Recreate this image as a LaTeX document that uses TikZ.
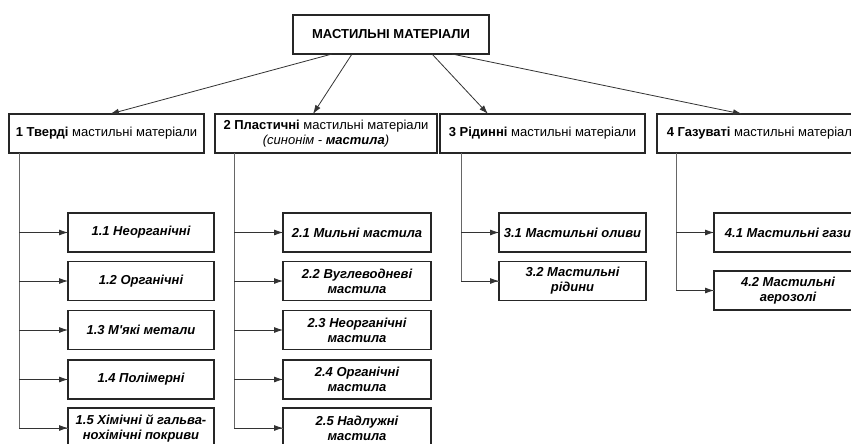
\documentclass[tikz,border=0pt]{standalone}
\usepackage{fontspec}
\setmainfont{Liberation Sans}[Ligatures=TeXOff]
\usetikzlibrary{arrows.meta}
\begin{document}
\begin{tikzpicture}[x=1pt,y=-1pt,
  box/.style={draw=black!85, line width=1.3pt, inner sep=0pt, outer sep=0pt, align=center,
    font=\fontsize{13}{15}\selectfont, minimum height=39pt},
  sub/.style={box, font=\fontsize{13}{15}\selectfont\bfseries\itshape},
  arr/.style={draw=black!80, line width=0.8pt, -{Latex[length=9pt,width=6pt]}},
  conn/.style={draw=black!60, line width=0.9pt}]
\useasboundingbox (0,0) rectangle (851,444);
\clip (0,0) rectangle (851,444);
\fill[white] (0,0) rectangle (851,444);
% top
\node[box, minimum width=196pt] (top) at (391,34.5) {\bfseries МАСТИЛЬНІ МАТЕРІАЛИ};
% level 1
\node[box, minimum width=195pt] (b1) at (106.5,133.5) {\textbf{1 Тверді} мастильні матеріали};
\node[box, minimum width=222pt] (b2) at (326,133.5) {\textbf{2 Пластичні} мастильні матеріали\\\textit{(синонім - \textbf{мастила})}};
\node[box, minimum width=205pt] (b3) at (542.5,133.5) {\textbf{3 Рідинні} мастильні матеріали};
\node[box, minimum width=212pt, anchor=west] (b4) at (657,133.5) {\hspace{5pt}\textbf{4 Газуваті} мастильні матеріали\hspace{5pt}};
% arrows from top
\draw[arr] ([xshift=39pt]top.south west) -- ([xshift=101pt]b1.north west);
\draw[arr] ([xshift=59pt]top.south west) -- ([xshift=98pt]b2.north west);
\draw[arr] ([xshift=139pt]top.south west) -- ([xshift=48pt]b3.north west);
\draw[arr] ([xshift=159pt]top.south west) -- ([xshift=85pt]b4.north west);
% column 1
\node[sub, minimum width=146pt] (s11) at (141,232.5) {1.1 Неорганічні};
\node[sub, minimum width=146pt] (s12) at (141,281) {1.2 Органічні};
\node[sub, minimum width=146pt] (s13) at (141,330) {1.3 М'які метали};
\node[sub, minimum width=146pt] (s14) at (141,379.5) {1.4 Полімерні};
\node[sub, minimum width=146pt, minimum height=40pt] (s15) at (141,428) {1.5 Хімічні й гальва-\\нохімічні покриви};
% column 2
\node[sub, minimum width=148pt] (s21) at (357,232.5) {2.1 Мильні мастила};
\node[sub, minimum width=148pt] (s22) at (357,281) {2.2 Вуглеводневі\\мастила};
\node[sub, minimum width=148pt] (s23) at (357,330) {2.3 Неорганічні\\мастила};
\node[sub, minimum width=148pt] (s24) at (357,379.5) {2.4 Органічні\\мастила};
\node[sub, minimum width=148pt, minimum height=40pt] (s25) at (357,428) {2.5 Надлужні\\мастила};
% column 3
\node[sub, minimum width=147pt] (s31) at (572.5,232.5) {3.1 Мастильні оливи};
\node[sub, minimum width=147pt] (s32) at (572.5,281) {3.2 Мастильні\\рідини};
% column 4
\node[sub, minimum width=148pt, anchor=west] (s41) at (714,232.5) {\hspace{5pt}4.1 Мастильні гази\hspace{5pt}};
\node[sub, minimum width=148pt] (s42) at (788,290.5) {4.2 Мастильні\\аерозолі};
% trunk coordinates
\coordinate (c1) at ([xshift=10pt]b1.south west);
\coordinate (c2) at ([xshift=19pt]b2.south west);
\coordinate (c3) at ([xshift=21pt]b3.south west);
\coordinate (c4) at ([xshift=19pt]b4.south west);
\draw[conn] (c1) |- (s15.west);
\draw[conn] (c2) |- (s25.west);
\draw[conn] (c3) |- (s32.west);
\draw[conn] (c4) |- (s42.west);
\foreach \s in {s11,s12,s13,s14,s15} \draw[arr] (\s.west -| c1) -- (\s.west);
\foreach \s in {s21,s22,s23,s24,s25} \draw[arr] (\s.west -| c2) -- (\s.west);
\foreach \s in {s31,s32} \draw[arr] (\s.west -| c3) -- (\s.west);
\foreach \s in {s41,s42} \draw[arr] (\s.west -| c4) -- (\s.west);
\end{tikzpicture}
\end{document}
